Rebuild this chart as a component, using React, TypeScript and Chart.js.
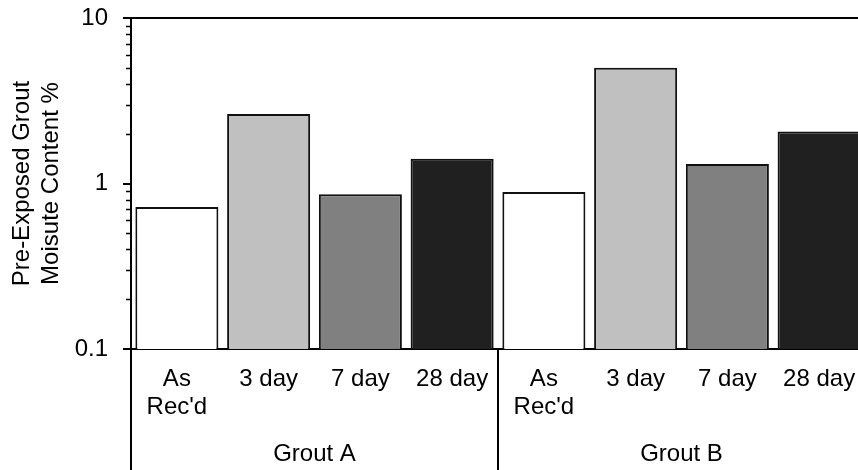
import React, { useEffect, useRef } from "react";
import { Chart, registerables } from "chart.js";

Chart.register(...registerables);

const categories: (string | string[])[] = [
  ["As", "Rec'd"], "3 day", "7 day", "28 day",
  ["As", "Rec'd"], "3 day", "7 day", "28 day",
];
const groups = ["Grout A", "Grout B"];
const groupSizes = [4, 4];
const moisture = [0.72, 2.63, 0.86, 1.41, 0.89, 5.01, 1.31, 2.06];
const barColors = ["#ffffff", "#c0c0c0", "#808080", "#202020", "#ffffff", "#c0c0c0", "#808080", "#202020"];
const yMajorTicks = [0.1, 1, 10];
const yTitle = ["Pre-Exposed Grout", "Moisute Content %"];

const FONT = "'Liberation Sans', Arial, Helvetica, sans-serif";

const decor = {
  id: "decor",
  afterDraw(chart: any) {
    const { ctx, chartArea, scales } = chart;
    const x = scales.x;
    const y = scales.y;
    ctx.save();
    ctx.strokeStyle = "#000";
    ctx.lineCap = "butt";
    // top frame line
    ctx.lineWidth = 2;
    ctx.beginPath();
    ctx.moveTo(chartArea.left - 1, chartArea.top);
    ctx.lineTo(chart.width, chartArea.top);
    ctx.stroke();
    // y tick marks (major + minor)
    for (let i = 0; i < yMajorTicks.length; i++) {
      const m = yMajorTicks[i];
      const py = Math.round(y.getPixelForValue(m));
      ctx.lineWidth = 2;
      ctx.beginPath();
      ctx.moveTo(chartArea.left - 8, py);
      ctx.lineTo(chartArea.left, py);
      ctx.stroke();
      if (i < yMajorTicks.length - 1) {
        for (let k = 2; k <= 9; k++) {
          const pm = Math.round(y.getPixelForValue(m * k)) + 0.5;
          ctx.lineWidth = 1.5;
          ctx.beginPath();
          ctx.moveTo(chartArea.left - 5, pm);
          ctx.lineTo(chartArea.left, pm);
          ctx.stroke();
        }
      }
    }
    // group separators and labels
    ctx.lineWidth = 2;
    ctx.fillStyle = "#000";
    ctx.font = `24px ${FONT}`;
    ctx.textAlign = "center";
    ctx.textBaseline = "middle";
    let start = 0;
    for (let g = 0; g < groups.length; g++) {
      const end = start + groupSizes[g] - 1;
      const sx = start === 0
        ? chartArea.left
        : (x.getPixelForValue(start - 1) + x.getPixelForValue(start)) / 2;
      ctx.beginPath();
      ctx.moveTo(sx, chartArea.bottom);
      ctx.lineTo(sx, chart.height);
      ctx.stroke();
      const cx = (x.getPixelForValue(start) + x.getPixelForValue(end)) / 2;
      ctx.fillText(groups[g], cx, 454);
      start = end + 1;
    }
    ctx.restore();
  },
};

export default function App() {
  const ref = useRef<HTMLCanvasElement>(null);
  useEffect(() => {
    if (!ref.current) return;
    const chart = new Chart(ref.current, {
      type: "bar",
      data: {
        labels: categories,
        datasets: [
          {
            data: moisture,
            backgroundColor: barColors,
            borderColor: "#111",
            borderWidth: 2,
            barPercentage: 0.905,
            categoryPercentage: 1,
          },
        ],
      },
      options: {
        responsive: false,
        animation: false,
        devicePixelRatio: 1,
        layout: { padding: { top: 18, right: 5, left: 0, bottom: 0 } },
        plugins: { legend: { display: false }, tooltip: { enabled: false } },
        scales: {
          x: {
            type: "category",
            offset: true,
            grid: { display: false, drawTicks: false, tickLength: 0 },
            border: { display: true, color: "#000", width: 2 },
            ticks: {
              color: "#000",
              font: { family: FONT, size: 24, lineHeight: 1.17 },
              padding: 16,
              maxRotation: 0,
              autoSkip: false,
            },
            afterFit: (s: any) => {
              s.height = 121;
              s.paddingLeft = 0;
              s.paddingRight = 0;
            },
          },
          y: {
            type: "logarithmic",
            min: 0.1,
            max: 10,
            grid: { display: true, drawOnChartArea: false, drawTicks: false, tickLength: 0 },
            border: { display: true, color: "#000", width: 2 },
            ticks: {
              color: "#000",
              font: { family: FONT, size: 24 },
              padding: 23,
              autoSkip: false,
              callback: (v: any) => {
                const n = Number(v);
                return yMajorTicks.some((t) => Math.abs(t - n) < 1e-9) ? String(n) : "";
              },
            },
            title: {
              display: true,
              text: yTitle,
              color: "#000",
              font: { family: FONT, size: 24, lineHeight: 1.2 },
              padding: { top: 8, bottom: 0 },
            },
            afterFit: (s: any) => {
              s.width = 131;
              s.paddingTop = 0;
              s.paddingBottom = 0;
            },
          },
        },
      },
      plugins: [decor],
    } as any);
    return () => chart.destroy();
  }, []);
  return (
    <div style={{ position: "fixed", left: 0, top: 0, width: 858, height: 470, overflow: "hidden", background: "#fff" }}>
      <canvas ref={ref} width={870} height={470} style={{ display: "block" }} />
    </div>
  );
}
